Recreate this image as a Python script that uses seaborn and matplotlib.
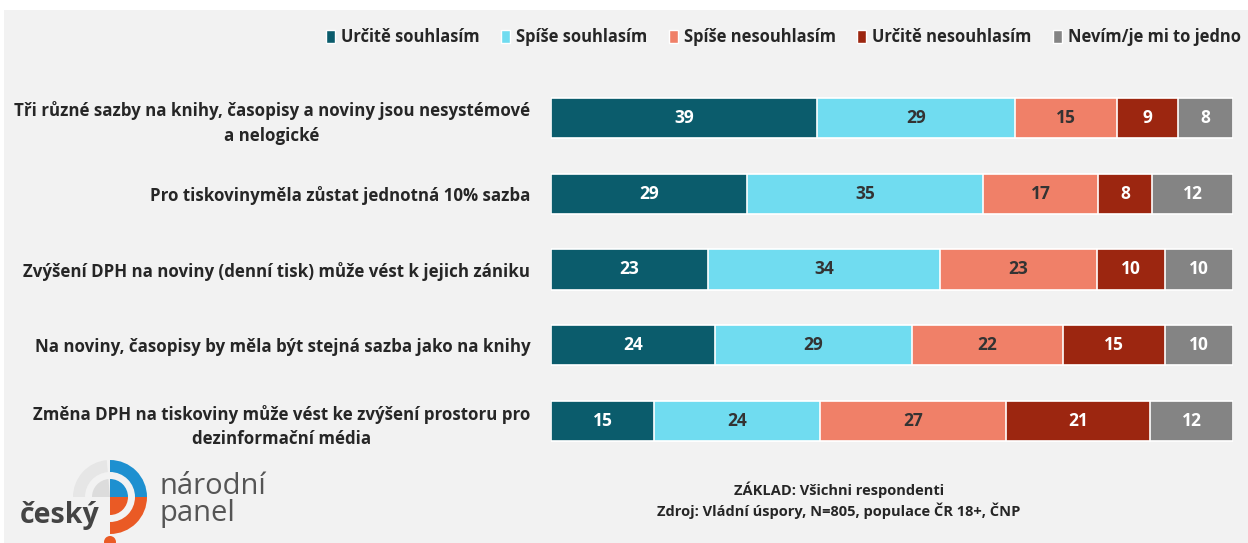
import numpy as np
import matplotlib
matplotlib.use("Agg")
import matplotlib.pyplot as plt
import seaborn as sns
from matplotlib.patches import Rectangle, Wedge, Circle, Patch

# Data
statements = [
    "Tři různé sazby na knihy, časopisy a noviny jsou nesystémové\na nelogické",
    "Pro tiskovinyměla zůstat jednotná 10% sazba",
    "Zvýšení DPH na noviny (denní tisk) může vést k jejich zániku",
    "Na noviny, časopisy by měla být stejná sazba jako na knihy",
    "Změna DPH na tiskoviny může vést ke zvýšení prostoru pro\ndezinformační média",
]
answers = ["Určitě souhlasím", "Spíše souhlasím", "Spíše nesouhlasím",
           "Určitě nesouhlasím", "Nevím/je mi to jedno"]
urcite_souhlas = [39, 29, 23, 24, 15]
spise_souhlas = [29, 35, 34, 29, 24]
spise_nesouhlas = [15, 17, 23, 22, 27]
urcite_nesouhlas = [9, 8, 10, 15, 21]
nevim = [8, 12, 10, 10, 12]

colors = ["#0b5c6c", "#70dcf0", "#f08068", "#9c2610", "#848484"]
text_colors = ["white", "#333333", "#333333", "white", "white"]

sns.set_theme(style="white")
plt.rcParams['font.family'] = ['Open Sans', 'DejaVu Sans']

values = np.array([urcite_souhlas, spise_souhlas, spise_nesouhlas,
                   urcite_nesouhlas, nevim], dtype=float).T
# bars are shown as share of 100 %
shares = values / values.sum(axis=1, keepdims=True) * 100
cum = shares.cumsum(axis=1)

fig = plt.figure(figsize=(12.48, 5.43), dpi=100, facecolor="#f2f2f2")
ax = fig.add_axes([551 / 1248, 1 - 459 / 543, 682 / 1248, 379 / 543])
ax.set_facecolor("#f2f2f2")

# stacked bars: draw cumulative totals, longest first
for i in range(len(answers) - 1, -1, -1):
    sns.barplot(x=cum[:, i], y=statements, color=colors[i], orient="h",
                width=0.53, edgecolor="white", linewidth=1.2, saturation=1,
                ax=ax)

for r in range(len(statements)):
    for i in range(len(answers)):
        ax.text(cum[r, i] - shares[r, i] / 2, r, f"{int(values[r, i])}",
                ha="center", va="center", fontsize=12.5, fontweight="bold",
                color=text_colors[i])

ax.set_xlim(0, 100)
ax.set_ylim(4.5, -0.5)
ax.set_xlabel("")
ax.set_ylabel("")
ax.set_xticks([])
ax.tick_params(axis="y", length=0, pad=15)
for t in ax.get_yticklabels():
    t.set_multialignment("center")
    t.set_linespacing(1.45)
    t.set_fontsize(12.2)
    t.set_fontweight("bold")
    t.set_color("#262626")
sns.despine(ax=ax, left=True, bottom=True)

# legend
handles = [Patch(facecolor=c, edgecolor="white") for c in colors]
leg = fig.legend(handles, answers, loc="center right",
                 bbox_to_anchor=(1.006, 1 - 37 / 543), ncol=5, frameon=False,
                 handlelength=0.55, handleheight=0.85, handletextpad=0.35,
                 columnspacing=1.3, prop={"weight": "bold", "size": 11.9})
for t in leg.get_texts():
    t.set_color("#262626")

# white strip at top and left
fig.patches.append(Rectangle((0, 1 - 10 / 543), 1, 10 / 543, transform=fig.transFigure,
                             facecolor="white", edgecolor="none", zorder=0))
fig.patches.append(Rectangle((0, 0), 4 / 1248, 1, transform=fig.transFigure,
                             facecolor="white", edgecolor="none", zorder=0))

# footer
fig.text(839 / 1248, 1 - 500 / 543,
         "ZÁKLAD: Všichni respondenti\nZdroj: Vládní úspory, N=805, populace ČR 18+, ČNP",
         ha="center", va="center", fontsize=10.5, fontweight="bold", color="#262626",
         linespacing=1.3)

# logo
lax = fig.add_axes([60 / 1248, 0, 100 / 1248, 100 / 543])
lax.set_xlim(-50, 50)
lax.set_ylim(-46, 54)
lax.set_aspect("equal")
lax.axis("off")
lax.add_patch(Wedge((0, 0), 37, 95, 180, width=12, facecolor="#e6e6e6", edgecolor="none"))
lax.add_patch(Wedge((0, 0), 37, 0, 90, width=12, facecolor="#1e90d0", edgecolor="none"))
lax.add_patch(Wedge((0, 0), 37, -90, 0, width=12, facecolor="#ea5a25", edgecolor="none"))
lax.add_patch(Wedge((0, 0), 18, 95, 180, facecolor="#dcdcdc", edgecolor="none"))
lax.add_patch(Wedge((0, 0), 18, 0, 90, facecolor="#1e90d0", edgecolor="none"))
lax.add_patch(Wedge((0, 0), 18, -90, 0, facecolor="#ea5a25", edgecolor="none"))
lax.add_patch(Circle((0, -45), 6, facecolor="#ea5a25", edgecolor="none"))

fig.text(20 / 1248, 1 - 515 / 543, "český", ha="left", va="center", fontsize=20.5,
         fontweight="bold", color="#444444")
fig.text(159 / 1248, 1 - 500 / 543, "národní\npanel", ha="left", va="center",
         fontsize=21, color="#555555", linespacing=0.95)

fig.savefig("out.png", dpi=100, facecolor=fig.get_facecolor())
